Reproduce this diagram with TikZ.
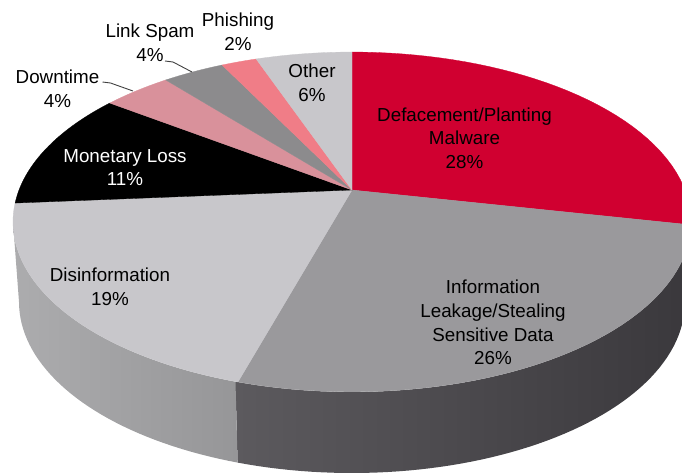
\documentclass[tikz,border=0pt]{standalone}
\usepackage{fontspec}
\setmainfont{Liberation Sans}
\definecolor{deface}{RGB}{208,0,48}
\definecolor{leak}{RGB}{154,153,156}
\definecolor{disinfo}{RGB}{200,199,203}
\definecolor{downtime}{RGB}{217,145,155}
\definecolor{linkspam}{RGB}{140,139,141}
\definecolor{phish}{RGB}{240,125,135}
\definecolor{other}{RGB}{200,199,203}
\definecolor{disleft}{RGB}{172,172,174}
\definecolor{disright}{RGB}{150,150,152}
\definecolor{leakleft}{RGB}{92,90,94}
\definecolor{leakright}{RGB}{58,56,60}

\begin{document}
\begin{tikzpicture}[x=1pt,y=-1pt,
  declare function={tx(\x)=352+333*sin(\x)/(1+0.188*cos(\x));
                    ty(\x)=190-163.9*cos(\x)/(1+0.188*cos(\x));},
  lbl/.style={align=center,inner sep=0pt,font=\fontsize{18.8}{23.7}\selectfont},
  leadline/.style={draw=black!75,line width=0.9pt}]
\useasboundingbox (0,0) rectangle (682,475);
\clip (0,0) rectangle (682,475);
% side of the pie
\shade[left color=leakleft,right color=leakright]
  plot[domain=0:110.1,samples=60] ({352+339*cos(\x)},{222+170*sin(\x)})
  -- plot[domain=110.1:0,samples=60] ({352+333*cos(\x)},{302+171*sin(\x)}) -- cycle;
\shade[left color=disleft,right color=disright]
  plot[domain=110.1:180,samples=40] ({352+339*cos(\x)},{222+170*sin(\x)})
  -- plot[domain=180:110.1,samples=40] ({352+333*cos(\x)},{302+171*sin(\x)}) -- cycle;
% top face
\foreach \a/\b/\col in {0/101.8/deface,101.8/196.3/leak,196.3/265.5/disinfo,
    265.5/306.1/black,306.1/320.2/downtime,320.2/332.9/linkspam,
    332.9/340.2/phish,340.2/360/other}
  \filldraw[fill=\col,draw=\col,line width=0.3pt] (352,190)
    -- plot[domain=\a:\b,samples=40] ({tx(\x)},{ty(\x)}) -- cycle;
% labels
\node[lbl] (deface) at (464.5,138) {Defacement/Planting\\Malware\\28\%};
\node[lbl] (leak) at (493,322.5) {Information\\Leakage/Stealing\\Sensitive Data\\26\%};
\node[lbl] (disinfo) at (110,287) {Disinformation\\19\%};
\node[lbl,text=white] (money) at (125,167.5) {Monetary Loss\\11\%};
\node[lbl] (downtime) at (57.5,88.5) {Downtime\\4\%};
\node[lbl] (linkspam) at (150,43) {Link Spam\\4\%};
\node[lbl] (phish) at (238,31.5) {Phishing\\2\%};
\node[lbl] (other) at (312,82.5) {Other\\6\%};
% leader lines
\coordinate (dtend) at (133,91);
\coordinate (lsend) at (192,72);
\draw[leadline] ([shift={(45,-6.5)}]downtime.center) -- ++(8,1) -- (dtend);
\draw[leadline] ([shift={(15,18)}]linkspam.center) -- ++(8,1) -- (lsend);
\end{tikzpicture}
\end{document}
